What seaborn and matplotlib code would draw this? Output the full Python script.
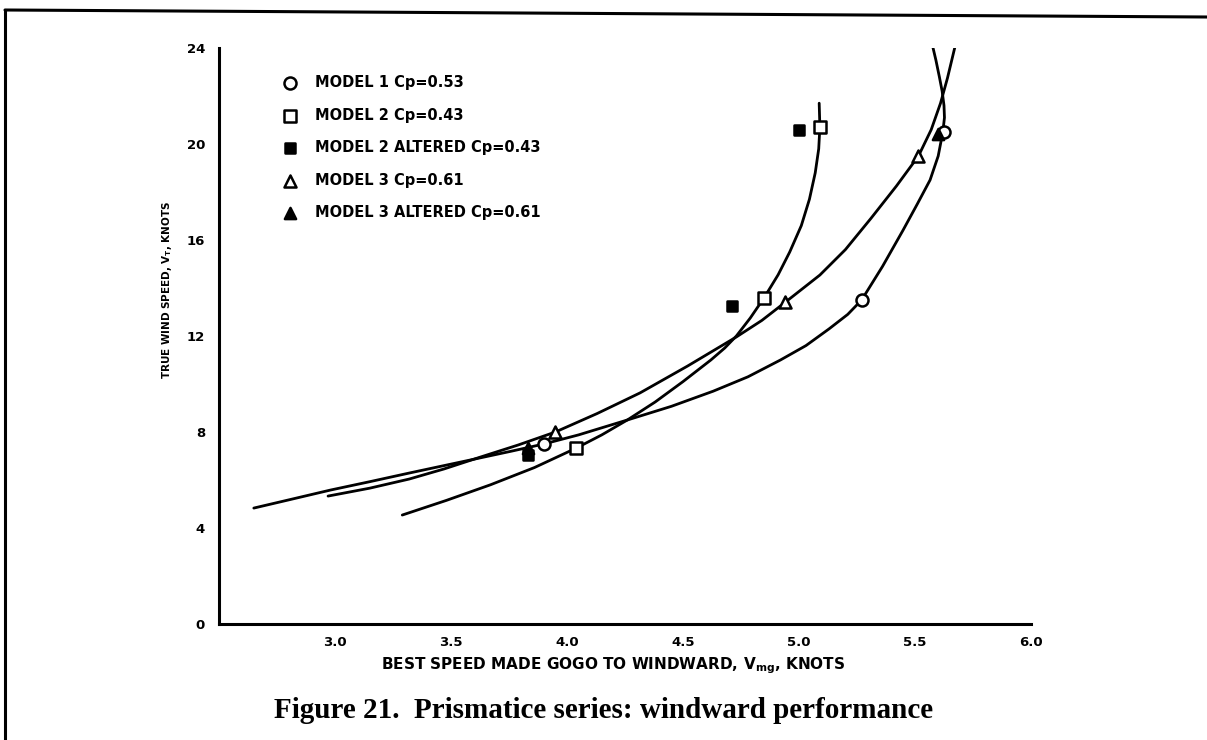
import matplotlib
matplotlib.use("Agg")
import matplotlib.pyplot as plt
from matplotlib.lines import Line2D
import numpy as np
import pandas as pd
import seaborn as sns

# ---- test points: best Vmg (knots) against true wind speed (knots) ----
model1_vmg = [3.90, 5.27, 5.625]
model1_vt = [7.5, 13.5, 20.5]
model2_vmg = [4.04, 4.85, 5.09]
model2_vt = [7.33, 13.6, 20.7]
model2alt_vmg = [3.83, 4.71, 5.00]
model2alt_vt = [7.05, 13.25, 20.6]
model3_vmg = [3.95, 4.94, 5.515]
model3_vt = [8.0, 13.4, 19.5]
model3alt_vmg = [3.83, 5.60]
model3alt_vt = [7.35, 20.4]

# ---- faired curves ----
curve1_vmg = [2.65, 2.80, 2.98, 3.15, 3.32, 3.47, 3.625, 3.76, 3.90, 4.05, 4.26,
              4.45, 4.63, 4.78, 4.92, 5.03, 5.13, 5.21, 5.27, 5.36, 5.448, 5.51,
              5.565, 5.60, 5.62, 5.627, 5.625, 5.617, 5.605, 5.59, 5.573]
curve1_vt = [4.83, 5.17, 5.58, 5.93, 6.29, 6.6, 6.92, 7.2, 7.5, 7.88, 8.5,
             9.07, 9.7, 10.3, 11.0, 11.6, 12.3, 12.9, 13.5, 14.9, 16.4, 17.5,
             18.5, 19.5, 20.5, 21.1, 21.6, 22.2, 22.8, 23.5, 24.2]
curve2_vmg = [3.29, 3.48, 3.67, 3.86, 4.04, 4.15, 4.26, 4.38, 4.50, 4.62, 4.68,
              4.73, 4.79, 4.85, 4.91, 4.96, 5.01, 5.045, 5.07, 5.085, 5.09, 5.087]
curve2_vt = [4.54, 5.15, 5.8, 6.52, 7.33, 7.88, 8.5, 9.25, 10.1, 11.0, 11.5,
             12.0, 12.75, 13.6, 14.55, 15.5, 16.6, 17.7, 18.8, 19.8, 20.7, 21.7]
curve3_vmg = [2.97, 3.15, 3.32, 3.47, 3.625, 3.79, 3.95, 4.13, 4.315, 4.52, 4.73,
              4.84, 4.94, 5.09, 5.20, 5.31, 5.42, 5.515, 5.57, 5.61, 5.64, 5.672]
curve3_vt = [5.33, 5.66, 6.04, 6.46, 6.95, 7.46, 8.0, 8.77, 9.63, 10.75, 11.96,
             12.65, 13.4, 14.54, 15.6, 16.9, 18.25, 19.5, 20.6, 21.7, 22.75, 24.04]

series_labels = ["MODEL 1 Cp=0.53", "MODEL 2 Cp=0.43", "MODEL 2 ALTERED Cp=0.43",
                 "MODEL 3 Cp=0.61", "MODEL 3 ALTERED Cp=0.61"]
x_ticks_major = [3.0, 4.0, 5.0, 6.0]
x_ticks_minor = [3.5, 4.5, 5.5]
y_ticks_major = [0, 4, 8, 12, 16, 20, 24]
y_ticks_minor = [2, 6, 10, 14, 18, 22]

sns.set_style("white")
plt.rcParams["font.family"] = ["DejaVu Sans"]
plt.rcParams.update({"text.color": "black", "axes.labelcolor": "black",
                     "xtick.color": "black", "ytick.color": "black"})

fig = plt.figure(figsize=(12.07, 7.40), dpi=100)
ax = fig.add_axes([219 / 1207, 1 - 624 / 740, (1031 - 219) / 1207, (624 - 48) / 740])

# curves
for cx, cy in [(curve1_vmg, curve1_vt), (curve2_vmg, curve2_vt), (curve3_vmg, curve3_vt)]:
    sns.lineplot(x=cx, y=cy, sort=False, estimator=None, color="black",
                 linewidth=2.0, ax=ax, zorder=2)

# points
point_sets = [
    (model1_vmg, model1_vt, "o", "white", 75),
    (model2_vmg, model2_vt, "s", "white", 65),
    (model2alt_vmg, model2alt_vt, "s", "black", 58),
    (model3_vmg, model3_vt, "^", "white", 75),
    (model3alt_vmg, model3alt_vt, "^", "black", 65),
]
for (px, py, mk, fc, sz), lab in zip(point_sets, series_labels):
    sns.scatterplot(x=px, y=py, marker=mk, s=sz, color=fc, edgecolor="black",
                    linewidth=1.8, ax=ax, zorder=4, label=lab)

ax.set_xlim(2.5, 6.0)
ax.set_ylim(0, 24)

for side in ["top", "right"]:
    ax.spines[side].set_visible(False)
for side in ["left", "bottom"]:
    ax.spines[side].set_linewidth(2.2)
    ax.spines[side].set_color("black")

tick_font = dict(fontsize=9.5, fontweight="bold")
ax.set_xticks(x_ticks_major, labels=[f"{v:.1f}" for v in x_ticks_major], **tick_font)
ax.set_xticks(x_ticks_minor, labels=[f"{v:.1f}" for v in x_ticks_minor], minor=True, **tick_font)
ax.set_yticks(y_ticks_major, labels=[str(v) for v in y_ticks_major], **tick_font)
ax.set_yticks(y_ticks_minor, minor=True)
ax.tick_params(axis="x", which="major", direction="in", length=15, width=1.8, pad=9)
ax.tick_params(axis="x", which="minor", direction="in", length=11, width=1.8, pad=9)
ax.tick_params(axis="y", which="both", direction="in", length=14, width=1.8, pad=10)

ax.set_xlabel("BEST SPEED MADE GOGO TO WINDWARD, V$_{\\mathregular{mg}}$, KNOTS",
              fontsize=11, fontweight="bold")
ax.set_ylabel("TRUE WIND SPEED, V$_{\\mathregular{T}}$, KNOTS", fontsize=7.5, fontweight="bold")
ax.xaxis.set_label_coords(0.485, -0.054)
ax.yaxis.set_label_coords(-0.056, 0.58)

leg = ax.legend(loc="upper left", bbox_to_anchor=(0.078, 0.953), frameon=False,
                prop=dict(weight="bold", size=10.5),
                handlelength=1.0, handletextpad=1.25, labelspacing=1.2,
                borderpad=0, borderaxespad=0)

fig.text(0.5, 1 - 710 / 740, "Figure 21.  Prismatice series: windward performance",
         ha="center", va="center", fontsize=21, fontweight="bold",
         family="Liberation Serif")

# sheet border
fig.add_artist(Line2D([5 / 1207, 1], [1 - 10 / 740, 1 - 17 / 740],
                      transform=fig.transFigure, color="black", lw=2.2))
fig.add_artist(Line2D([5 / 1207, 5 / 1207], [1 - 10 / 740, 0],
                      transform=fig.transFigure, color="black", lw=2.2))

fig.savefig("out.png", dpi=100, facecolor="white")
